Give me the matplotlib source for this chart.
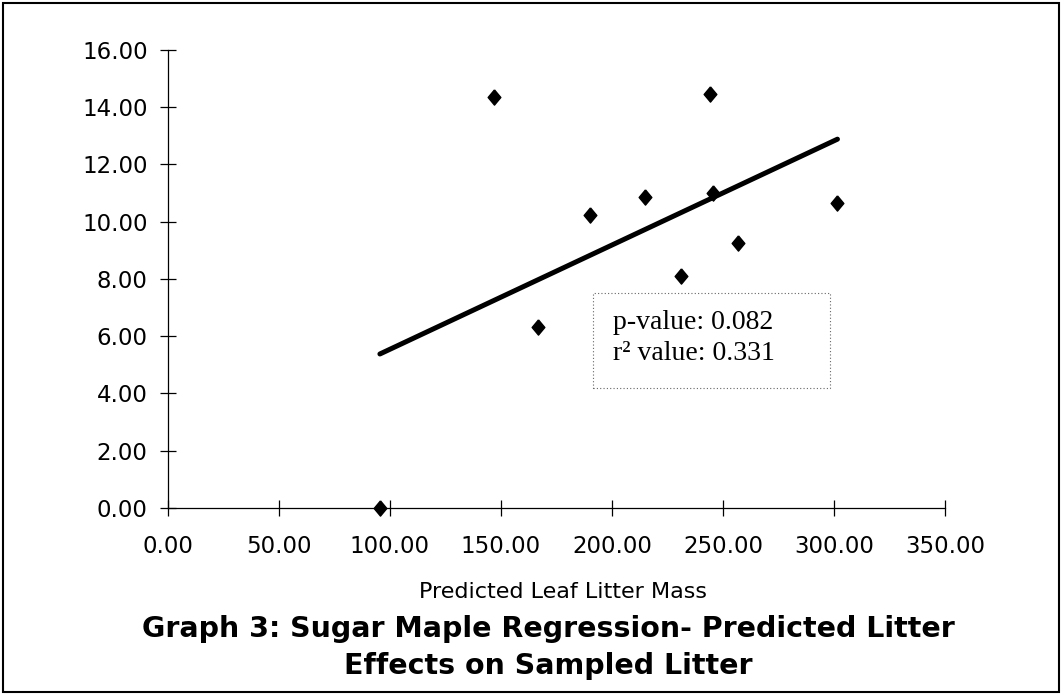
import numpy as np
import matplotlib.pyplot as plt
from matplotlib.patches import Rectangle

# values
predicted = [95.5, 146.8, 166.8, 190.1, 214.9, 230.9, 244.1, 245.3, 256.9, 301.5]
sampled = [0.00, 14.37, 6.33, 10.23, 10.86, 8.10, 14.47, 11.01, 9.24, 10.64]
x_ticks = [0, 50, 100, 150, 200, 250, 300, 350]
y_ticks = [0, 2, 4, 6, 8, 10, 12, 14, 16]
stats_text = ["p-value: 0.082", "r\u00b2 value: 0.331"]

fig = plt.figure(figsize=(10.62, 6.94), dpi=100)
ax = fig.add_axes([0.158, 0.268, 0.732, 0.660])

# outer frame round the whole picture
fig.patches.append(Rectangle((0.003, 0.003), 0.994, 0.993, transform=fig.transFigure,
                             fill=False, edgecolor='black', linewidth=1.5))

# slightly tall diamond, like the scanned markers
diamond = [(0, 1.2), (1, 0), (0, -1.2), (-1, 0), (0, 1.2)]
ax.scatter(predicted, sampled, marker=diamond, s=120, color='black', zorder=3, clip_on=False)

# least squares fit over the data range
slope, intercept = np.polyfit(predicted, sampled, 1)
fit_x = np.array([min(predicted), max(predicted)])
ax.plot(fit_x, slope * fit_x + intercept, color='black', linewidth=3.6,
        solid_capstyle='round', zorder=2)

ax.set_xlim(0, 350)
ax.set_ylim(0, 16)
ax.set_xticks(x_ticks)
ax.set_yticks(y_ticks)
ax.set_xticklabels([f'{v:.2f}' for v in x_ticks])
ax.set_yticklabels([f'{v:.2f}' for v in y_ticks])
ax.tick_params(direction='inout', length=11, width=0.9, labelsize=16.5)
ax.tick_params(axis='x', pad=14)
ax.tick_params(axis='y', pad=9)

for side in ['top', 'right']:
    ax.spines[side].set_visible(False)
for side in ['left', 'bottom']:
    ax.spines[side].set_linewidth(0.9)

ax.set_xlabel('Predicted Leaf Litter Mass', fontsize=16)
ax.xaxis.label.set_va('center')
ax.xaxis.set_label_coords(0.508, -0.183)

# dotted box with the regression stats
ax.add_patch(Rectangle((0.547, 0.262), 0.305, 0.207, transform=ax.transAxes,
                       fill=False, edgecolor='#666666', linestyle=(0, (1, 2)), linewidth=0.8))
ax.text(0.573, 0.406, stats_text[0], transform=ax.transAxes, fontsize=20,
        family='Liberation Serif', va='center')
ax.text(0.573, 0.338, stats_text[1], transform=ax.transAxes, fontsize=20,
        family='Liberation Serif', va='center')

fig.text(0.516, 0.067, 'Graph 3: Sugar Maple Regression- Predicted Litter\nEffects on Sampled Litter',
         ha='center', va='center', fontsize=20.5, fontweight='bold', linespacing=1.45)

fig.savefig('out.png', dpi=100)
